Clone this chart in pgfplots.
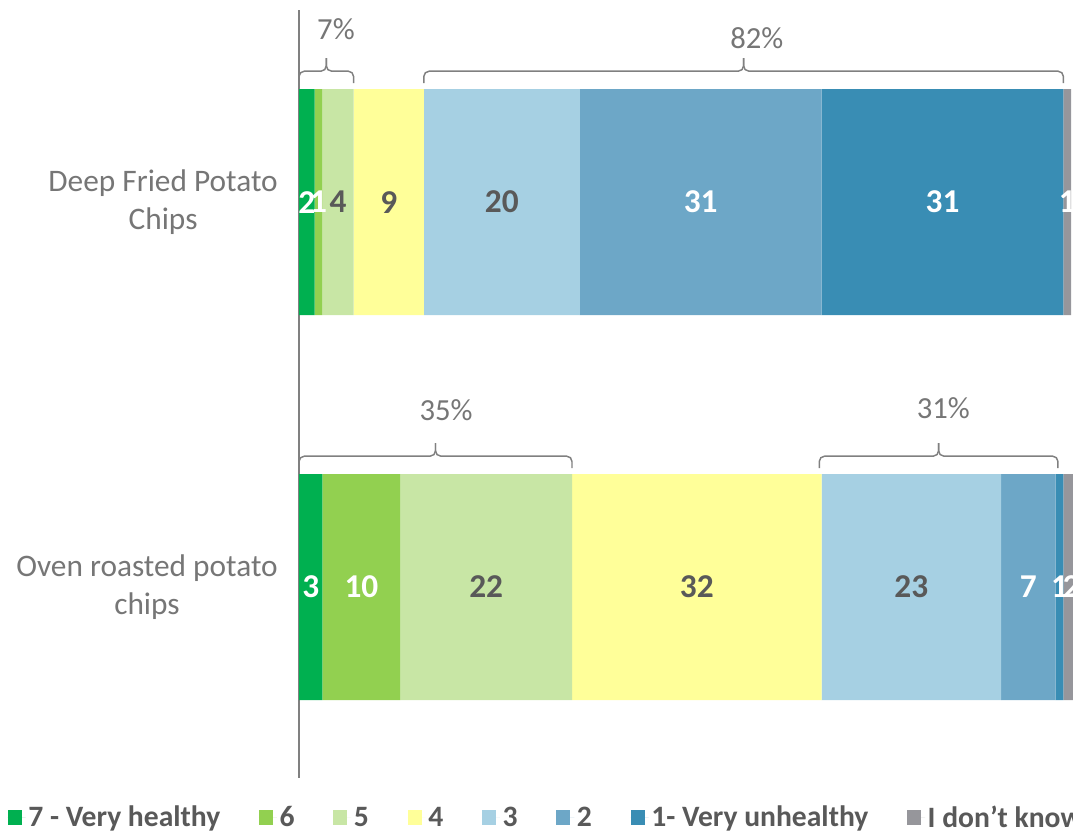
\documentclass[border=0pt]{standalone}
\usepackage{pgfplots}
\pgfplotsset{compat=1.18}
\usepackage{fontspec}
\setmainfont{Carlito}

\definecolor{c7}{RGB}{0,176,80}
\definecolor{c6}{RGB}{146,208,80}
\definecolor{c5}{RGB}{200,230,165}
\definecolor{c4}{RGB}{255,255,153}
\definecolor{c3}{RGB}{166,208,227}
\definecolor{c2}{RGB}{109,167,199}
\definecolor{c1}{RGB}{57,141,180}
\definecolor{cdk}{RGB}{150,150,155}
\definecolor{txtdark}{RGB}{89,89,89}
\definecolor{txtgray}{RGB}{118,118,118}
\definecolor{linegray}{RGB}{128,128,128}

% 1 px of the reference = 0.75pt
\pgfplotsset{
  base/.style={
    scale only axis, width=585pt, height=576pt,
    at={(224.25pt,42pt)}, anchor=south west,
    xmin=0, xmax=100, ymin=-0.496, ymax=1.499,
    enlargelimits=false, clip=false,
  },
}

\begin{document}
\begin{tikzpicture}
\useasboundingbox (0,0) rectangle (804.75pt,625.5pt);
\clip (0,0) rectangle (804.75pt,625.5pt);

\begin{axis}[base,
  xbar stacked, bar width=0.587,
  axis x line=none, axis y line=left,
  y axis line style={draw=linegray, line width=0.9pt, -},
  ytick={0,1},
  yticklabels={{Oven roasted potato\\chips},{Deep Fried Potato\\Chips}},
  major tick length=0pt,
  yticklabel style={align=center, font=\fontsize{23.5}{28}\selectfont,
    text=txtgray, inner sep=0pt, xshift=-15.75pt},
  legend columns=8,
  legend style={draw=none, fill=none, at={(-0.379,-0.0515)}, anchor=west,
    font=\bfseries\fontsize{22.2}{27}\selectfont, text=txtdark,
    /tikz/every even column/.append style={column sep=27pt}},
  legend image code/.code={\fill[#1] (0pt,-5.5pt) rectangle (10.5pt,5.5pt);
    \path (0pt,0pt) -- (13.5pt,0pt);},
]
% series: Deep Fried (y=1), Oven roasted (y=0)
\addplot[fill=c7, draw=none] coordinates {(2,1) (3,0)};
\addplot[fill=c6, draw=none] coordinates {(1,1) (10,0)};
\addplot[fill=c5, draw=none] coordinates {(4,1) (22,0)};
\addplot[fill=c4, draw=none] coordinates {(9,1) (32,0)};
\addplot[fill=c3, draw=none] coordinates {(20,1) (23,0)};
\addplot[fill=c2, draw=none] coordinates {(31,1) (7,0)};
\addplot[fill=c1, draw=none] coordinates {(31,1) (1,0)};
\addplot[fill=cdk, draw=none] coordinates {(1,1) (2,0)};
\legend{7 - Very healthy, 6, 5, 4, 3, 2, 1- Very unhealthy, I don't know}
\end{axis}

\begin{axis}[base, hide axis,
  nodes near coords, point meta=explicit symbolic,
  every node near coord/.append style={anchor=center,
    font=\bfseries\fontsize{25}{30}\selectfont},
]
% value labels at segment centres
\addplot[draw=none, mark=none, every node near coord/.append style={text=white}]
  coordinates {(1,1) [2] (2.5,1) [1] (51.5,1) [31] (82.5,1) [31] (98.5,1) [1]
               (1.5,0) [3] (8,0) [10] (93.5,0) [7] (97.5,0) [1] (99,0) [2]};
\addplot[draw=none, mark=none, every node near coord/.append style={text=txtdark}]
  coordinates {(5,1) [4] (11.5,1) [9] (26,1) [20]
               (24,0) [22] (51,0) [32] (78.5,0) [23]};

% brackets
\begin{scope}[linegray, line width=1.1pt, rounded corners=4pt]
\draw (axis cs:0,1.309) |- (axis cs:3.5,1.340) -- (axis cs:3.5,1.374);
\draw (axis cs:7,1.309) |- (axis cs:3.5,1.340) -- (axis cs:3.5,1.374);
\draw (axis cs:16,1.309) |- (axis cs:57,1.340) -- (axis cs:57,1.374);
\draw (axis cs:98,1.309) |- (axis cs:57,1.340) -- (axis cs:57,1.374);
\draw (axis cs:0,0.309) |- (axis cs:17.5,0.340) -- (axis cs:17.5,0.374);
\draw (axis cs:35,0.309) |- (axis cs:17.5,0.340) -- (axis cs:17.5,0.374);
\draw (axis cs:66.7,0.309) |- (axis cs:82,0.340) -- (axis cs:82,0.374);
\draw (axis cs:97.3,0.309) |- (axis cs:82,0.340) -- (axis cs:82,0.374);
\end{scope}
\begin{scope}[font=\fontsize{23}{28}\selectfont, text=txtgray]
\node at (axis cs:4.74,1.449) {7\%};
\node at (axis cs:58.7,1.426) {82\%};
\node at (axis cs:18.85,0.460) {35\%};
\node at (axis cs:82.6,0.465) {31\%};
\end{scope}
\end{axis}
\end{tikzpicture}
\end{document}
